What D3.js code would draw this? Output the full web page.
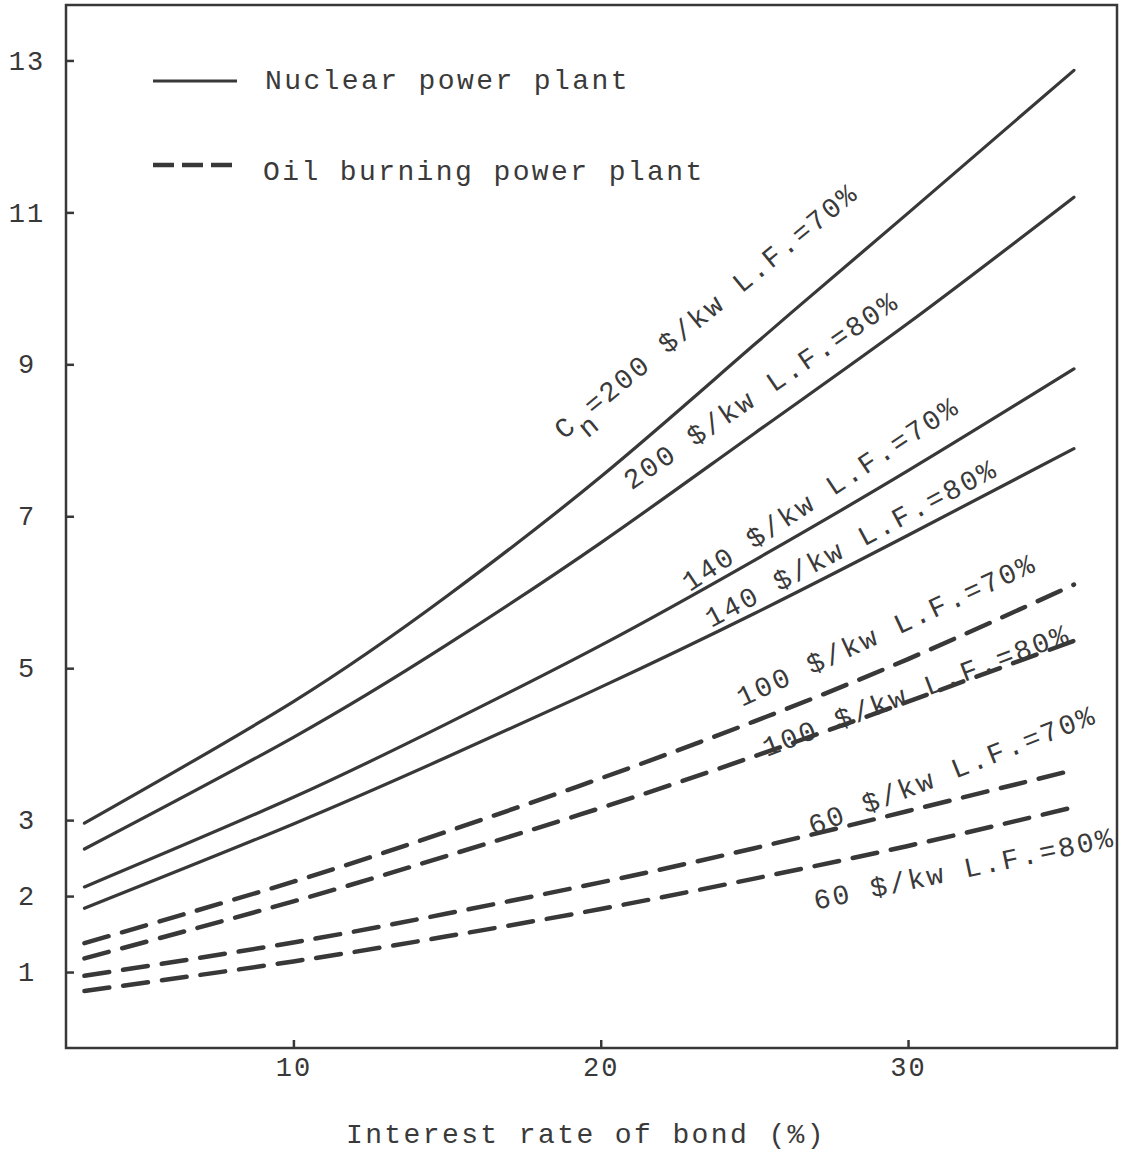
<!DOCTYPE html>
<html>
<head>
<meta charset="utf-8">
<script src="https://cdn.jsdelivr.net/npm/d3@7"></script>
<style>
  html, body { margin: 0; padding: 0; background: #fff; }
  svg text { font-family: 'Liberation Mono', 'DejaVu Sans Mono', monospace; fill: #3a3a3a; }
</style>
</head>
<body>
<svg id="chart" width="1125" height="1160"></svg>
<script>
// interest rate of bond (%)
const rates = [3.2, 10, 15, 20, 25, 30, 35.4];

// nuclear power plant, C_n in $/kw, load factor
const nuc200lf70 = [2.96, 4.56, 5.95, 7.52, 9.26, 10.99, 12.87];
const nuc200lf80 = [2.62, 4.09, 5.31, 6.65, 8.09, 9.54, 11.2];
const nuc140lf70 = [2.12, 3.3, 4.27, 5.3, 6.42, 7.6, 8.94];
const nuc140lf80 = [1.84, 2.95, 3.83, 4.75, 5.72, 6.75, 7.89];

// oil burning power plant
const oil100lf70 = [1.38, 2.19, 2.85, 3.55, 4.3, 5.12, 6.1];
const oil100lf80 = [1.18, 1.93, 2.53, 3.16, 3.84, 4.56, 5.36];
const oil60lf70 = [0.95, 1.39, 1.77, 2.18, 2.63, 3.12, 3.66];
const oil60lf80 = [0.75, 1.14, 1.47, 1.83, 2.23, 2.66, 3.17];

const xTicks = [10, 20, 30];
const yTicks = [1, 2, 3, 5, 7, 9, 11, 13];

const series = [
  { values: nuc200lf70, kind: 'nuclear' },
  { values: nuc200lf80, kind: 'nuclear' },
  { values: nuc140lf70, kind: 'nuclear' },
  { values: nuc140lf80, kind: 'nuclear' },
  { values: oil100lf70, kind: 'oil' },
  { values: oil100lf80, kind: 'oil' },
  { values: oil60lf70, kind: 'oil' },
  { values: oil60lf80, kind: 'oil' },
];

// curve labels: anchor in data units, slant in degrees
const curveLabels = [
  { pre: 'C', sub: 'n', text: '=200 $/kw L.F.=70%', at: [18.8, 8.0], angle: -39.5 },
  { text: '200 $/kw L.F.=80%', at: [21.0, 7.34], angle: -34.4 },
  { text: '140 $/kw L.F.=70%', at: [22.9, 6.0], angle: -33.7 },
  { text: '140 $/kw L.F.=80%', at: [23.6, 5.53], angle: -28 },
  { text: '100 $/kw L.F.=70%', at: [24.6, 4.49], angle: -24.8 },
  { text: '100 $/kw L.F.=80%', at: [25.4, 3.83], angle: -20.8 },
  { text: '60 $/kw L.F.=70%', at: [26.9, 2.8], angle: -21.6 },
  { text: '60 $/kw L.F.=80%', at: [27.0, 1.82], angle: -12 },
];

const svg = d3.select('#chart');
const ink = '#383838';
const plotLeft = 66, plotRight = 1117, plotTop = 5, plotBottom = 1048;

const x = d3.scaleLinear().domain([2.6, 36.8]).range([plotLeft, plotRight]);
const y = d3.scaleLinear().domain([0, 13.73]).range([plotBottom, plotTop]);

const fontSize = 28;
const spacing = 2.4;

// frame
svg.append('rect')
  .attr('x', plotLeft).attr('y', plotTop)
  .attr('width', plotRight - plotLeft).attr('height', plotBottom - plotTop)
  .attr('fill', 'none').attr('stroke', ink).attr('stroke-width', 2.5);

// y axis
const yAxis = svg.append('g')
  .attr('transform', `translate(${plotLeft},0)`)
  .call(d3.axisLeft(y).tickValues(yTicks).tickSize(-8).tickFormat(d3.format('d')));
yAxis.select('.domain').remove();
yAxis.selectAll('line').attr('stroke', ink).attr('stroke-width', 2.5);
yAxis.selectAll('text')
  .attr('x', -39).attr('text-anchor', 'middle')
  .attr('font-size', 27).attr('letter-spacing', 2)
  .style('fill', ink);

// x axis
const xAxis = svg.append('g')
  .attr('transform', `translate(0,${plotBottom})`)
  .call(d3.axisBottom(x).tickValues(xTicks).tickSize(-8).tickPadding(9).tickFormat(d3.format('d')));
xAxis.select('.domain').remove();
xAxis.selectAll('line').attr('stroke', ink).attr('stroke-width', 2.5);
xAxis.selectAll('text')
  .attr('font-size', 27).attr('letter-spacing', 2)
  .style('fill', ink);

svg.append('text')
  .attr('x', 586).attr('y', 1143)
  .attr('text-anchor', 'middle')
  .attr('font-size', fontSize).attr('letter-spacing', spacing)
  .text('Interest rate of bond (%)');

// curves
const line = d3.line()
  .x((d) => x(d[0]))
  .y((d) => y(d[1]))
  .curve(d3.curveNatural);

series.forEach((s) => {
  const pts = rates.map((r, i) => [r, s.values[i]]);
  const path = svg.append('path')
    .attr('d', line(pts))
    .attr('fill', 'none')
    .attr('stroke', ink)
    .attr('stroke-linecap', 'round');
  if (s.kind === 'oil') {
    path.attr('stroke-width', 4.5).attr('stroke-dasharray', '25,14');
  } else {
    path.attr('stroke-width', 3.2);
  }
});

// curve labels
curveLabels.forEach((l) => {
  const px = x(l.at[0]);
  const py = y(l.at[1]);
  const t = svg.append('text')
    .attr('transform', `translate(${px},${py}) rotate(${l.angle})`)
    .attr('font-size', fontSize)
    .attr('letter-spacing', spacing);
  if (l.pre) {
    t.append('tspan').text(l.pre);
    t.append('tspan').attr('dy', 14).text(l.sub);
    t.append('tspan').attr('dy', -14).text(l.text);
  } else {
    t.text(l.text);
  }
});

// legend
const legend = svg.append('g');
legend.append('line')
  .attr('x1', 153).attr('x2', 237).attr('y1', 81).attr('y2', 81)
  .attr('stroke', ink).attr('stroke-width', 3.2);
legend.append('text')
  .attr('x', 265).attr('y', 89)
  .attr('font-size', fontSize).attr('letter-spacing', spacing)
  .text('Nuclear power plant');
legend.append('line')
  .attr('x1', 153).attr('x2', 235).attr('y1', 165).attr('y2', 165)
  .attr('stroke', ink).attr('stroke-width', 4.5)
  .attr('stroke-dasharray', '21,8');
legend.append('text')
  .attr('x', 263).attr('y', 180)
  .attr('font-size', fontSize).attr('letter-spacing', spacing)
  .text('Oil burning power plant');
</script>
</body>
</html>
